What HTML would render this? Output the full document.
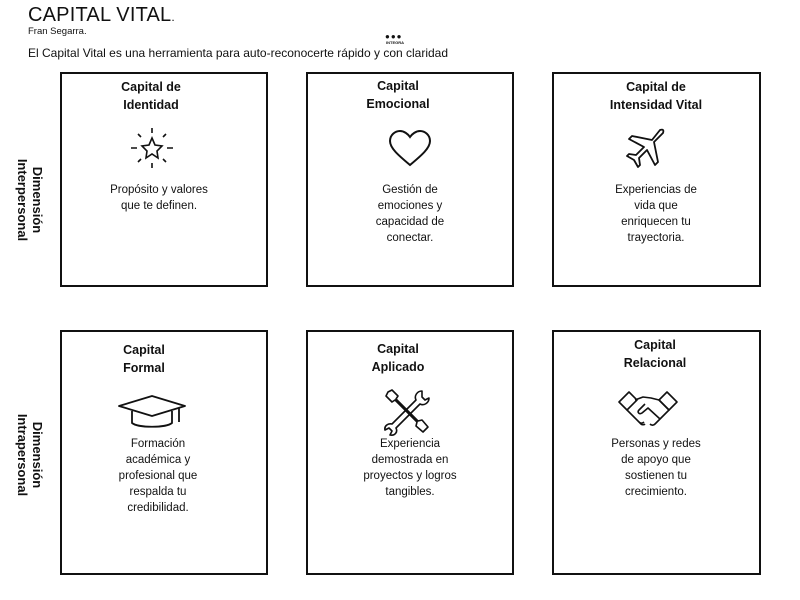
<!DOCTYPE html>
<html><head><meta charset="utf-8"><style>
*{margin:0;padding:0;box-sizing:border-box}
body{width:800px;height:600px;background:#fff;position:relative;overflow:hidden;font-family:"Liberation Sans",sans-serif;color:#111}
.a{position:absolute}
.box{position:absolute;border:2px solid #111;background:#fff}
.t{position:absolute;width:200px;text-align:center;font-weight:bold;font-size:12.5px;line-height:18px}
.d{position:absolute;width:200px;text-align:center;font-size:11.5px;line-height:16px}
.v{position:absolute;font-weight:bold;font-size:13px;line-height:15px;text-align:center;transform:rotate(90deg);white-space:nowrap;width:160px;left:-50px}
svg{position:absolute}
</style></head><body>
<div class="a" style="left:28px;top:4px;font-size:20px;font-weight:300;letter-spacing:0.2px">CAPITAL VITAL<span style="font-size:12px">.</span></div>
<div class="a" style="left:28px;top:26px;font-size:9.5px">Fran Segarra.</div>
<div class="a" style="left:385px;top:32px;font-size:8px;letter-spacing:1px">●●●</div>
<div class="a" style="left:386px;top:40px;font-size:4px;font-weight:bold">INTEGRA</div>
<div class="a" style="left:28px;top:46px;font-size:12px">El Capital Vital es una herramienta para auto-reconocerte rápido y con claridad</div>

<div class="box" style="left:60px;top:72px;width:208px;height:215px"></div>
<div class="box" style="left:306px;top:72px;width:208px;height:215px"></div>
<div class="box" style="left:552px;top:72px;width:209px;height:215px"></div>
<div class="box" style="left:60px;top:330px;width:208px;height:245px"></div>
<div class="box" style="left:306px;top:330px;width:208px;height:245px"></div>
<div class="box" style="left:552px;top:330px;width:209px;height:245px"></div>

<div class="v" style="top:185px">Dimensión<br>Interpersonal</div>
<div class="v" style="top:440px">Dimensión<br>Intrapersonal</div>

<div class="t" style="left:51px;top:78px">Capital de<br>Identidad</div>
<div class="t" style="left:298px;top:77px">Capital<br>Emocional</div>
<div class="t" style="left:556px;top:78px">Capital de<br>Intensidad Vital</div>
<div class="t" style="left:44px;top:341px">Capital<br>Formal</div>
<div class="t" style="left:298px;top:340px">Capital<br>Aplicado</div>
<div class="t" style="left:555px;top:336px">Capital<br>Relacional</div>

<div class="d" style="left:59px;top:182px">Propósito y valores<br>que te definen.</div>
<div class="d" style="left:310px;top:182px">Gestión de<br>emociones y<br>capacidad de<br>conectar.</div>
<div class="d" style="left:556px;top:182px">Experiencias de<br>vida que<br>enriquecen tu<br>trayectoria.</div>
<div class="d" style="left:58px;top:436px">Formación<br>académica y<br>profesional que<br>respalda tu<br>credibilidad.</div>
<div class="d" style="left:310px;top:436px">Experiencia<br>demostrada en<br>proyectos y logros<br>tangibles.</div>
<div class="d" style="left:556px;top:436px">Personas y redes<br>de apoyo que<br>sostienen tu<br>crecimiento.</div>

<!-- star -->
<svg style="left:128px;top:126px" width="48" height="44" viewBox="0 0 48 44" fill="none" stroke="#111" stroke-width="1.6">
<polygon points="24,12 27,19 34,20 29,25 30,32 24,28 18,32 19,25 14,20 21,19"/>
<path d="M24 2v5M24 37v5M3 22h6M39 22h6M10 8l3 3M38 8l-3 3M10 36l3-3M38 36l-3-3"/>
</svg>
<!-- heart -->
<svg style="left:388px;top:130px" width="44" height="38" viewBox="0 0 44 38" fill="none" stroke="#111" stroke-width="2">
<path d="M22 35C10 25 2 18 2 11 2 5 7 1 12 1c4 0 8 3 10 6 2-3 6-6 10-6 5 0 10 4 10 10 0 7-8 14-20 24z"/>
</svg>
<!-- plane -->
<svg style="left:620px;top:126px" width="46" height="46" viewBox="0 0 46 46" fill="none" stroke="#111" stroke-width="1.8" stroke-linejoin="round">
<path d="M40 4c3-1 4 0 3 3L34 16l4 20-3 3-8-15-8 8 1 7-2 2-4-7-7-4 2-2 7 1 8-8L9 13l3-3 20 4z"/>
</svg>
<!-- cap -->
<svg style="left:117px;top:393px" width="70" height="42" viewBox="0 0 70 42" fill="none" stroke="#111" stroke-width="1.8" stroke-linejoin="round">
<path d="M2 13L35 3l33 10-33 10z"/><path d="M15 18v12c6 5 34 5 40 0V18"/><path d="M62 15v14"/>
</svg>
<!-- tools -->
<svg style="left:382px;top:388px" width="50" height="48" viewBox="0 0 50 48" fill="none" stroke="#111" stroke-width="1.6" stroke-linejoin="round">
<path d="M6 4l4-2 6 6-2 3 22 22 4-1 6 7-5 5-7-6 1-4L13 12l-3 2-6-6z"/>
<path d="M40 3c-5 0-8 5-6 9L10 36c-4-1-8 2-7 6l4-2 3 3-2 4c5 1 8-3 6-7l24-24c4 2 9-1 9-6l-4 2-3-3z"/>
</svg>
<!-- handshake -->
<svg style="left:617px;top:390px" width="62" height="40" viewBox="0 0 62 40" fill="none" stroke="#111" stroke-width="1.6" stroke-linejoin="round">
<path d="M2 12L12 2l8 8-10 10z"/><path d="M60 12L50 2l-8 8 10 10z"/>
<path d="M18 10l8-3 8 1 8 2"/><path d="M42 10l10 10-14 14c-2 2-4 1-5 0M10 20l12 12c2 2 4 1 5 0M16 26l8 8c1 1 3 1 4 0M28 14l-6 6c-2 2 0 5 3 3l6-5 12 11"/>
</svg>
</body></html>
